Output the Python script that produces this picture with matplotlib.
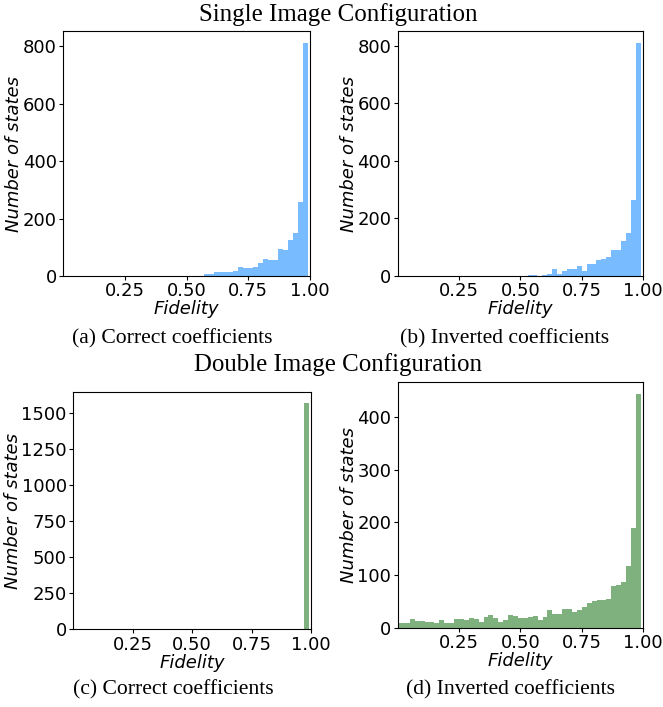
import numpy as np
import matplotlib
matplotlib.use("Agg")
import matplotlib.pyplot as plt
from matplotlib.ticker import MultipleLocator

W, H = 663, 707

# Histogram bins: width 0.02, centred on multiples of 0.02
bin_centers = [round(0.02 * k, 2) for k in range(50)]
bin_edges = [round(-0.01 + 0.02 * k, 2) for k in range(51)]

# (a) Single image, correct coefficients (counts for bins 29..49)
counts_a_tail = [6, 6, 13, 13, 15, 15, 16, 30, 27, 28, 30, 45, 58, 56, 55,
                 93, 89, 127, 148, 256, 812]
# (b) Single image, inverted coefficients (bins 27..49)
counts_b_tail = [2, 2, 1, 5, 8, 23, 6, 16, 23, 23, 34, 17, 41, 41, 55, 58,
                 65, 89, 89, 121, 148, 263, 810]
# (c) Double image, correct coefficients (bin 49)
counts_c_tail = [1564]
# (d) Double image, inverted coefficients (bins 0..49)
counts_d = [9, 9, 9, 17, 13, 13, 11, 11, 9, 15,
            9, 9, 17, 17, 15, 19, 17, 11, 20, 24,
            19, 11, 15, 24, 23, 19, 19, 20, 22, 15,
            21, 34, 26, 26, 35, 35, 30, 33, 39, 47,
            50, 52, 52, 55, 79, 81, 86, 118, 190, 444]

counts_a = [0] * (50 - len(counts_a_tail)) + counts_a_tail
counts_b = [0] * (50 - len(counts_b_tail)) + counts_b_tail
counts_c = [0] * (50 - len(counts_c_tail)) + counts_c_tail

xticks = [0.25, 0.50, 0.75, 1.00]
xticklabels = ["0.25", "0.50", "0.75", "1.00"]
ytick_steps = [200, 200, 250, 100]

captions = ["(a) Correct coefficients", "(b) Inverted coefficients",
            "(c) Correct coefficients", "(d) Inverted coefficients"]
titles = ["Single Image Configuration", "Double Image Configuration"]

blue = "dodgerblue"
green = "darkgreen"

fig = plt.figure(figsize=(W / 100, H / 100), dpi=100)

# panel boxes in pixels: left, right, top, bottom
boxes = [
    (63, 310, 31, 276),
    (397.5, 643, 31, 276),
    (73, 311, 392, 629.3),
    (397.5, 643.3, 382, 627.7),
]
all_counts = [counts_a, counts_b, counts_c, counts_d]
colors = [(blue, 0.6), (blue, 0.6), (green, 0.5), (green, 0.5)]

lab_fs = 13
for (l, r, t, b), counts, (col, al), step in zip(boxes, all_counts, colors, ytick_steps):
    ax = fig.add_axes([l / W, 1 - b / H, (r - l) / W, (b - t) / H])
    ax.hist(bin_centers, bins=bin_edges, weights=counts, color=col, alpha=al)
    ax.set_xlim(0, 1.0)
    ax.set_xticks(xticks)
    ax.set_xticklabels(xticklabels)
    ax.yaxis.set_major_locator(MultipleLocator(step))
    ax.tick_params(labelsize=lab_fs, length=3, width=0.8, pad=1.5)
    ax.set_xlabel("Fidelity", fontsize=lab_fs, style="italic", labelpad=0)
    ax.set_ylabel("Number of states", fontsize=lab_fs, style="italic", labelpad=-0.5)
    for s in ax.spines.values():
        s.set_linewidth(0.8)

serif = ["Liberation Serif", "DejaVu Serif"]
fig.text(338 / W, 1 - 15 / H, titles[0], ha="center", va="center",
         fontsize=17.9, family=serif)
fig.text(338 / W, 1 - 365 / H, titles[1], ha="center", va="center",
         fontsize=17.9, family=serif)
cap_pos = [(172, 339), (505, 339), (173, 690), (510, 690)]
for (x, y), c in zip(cap_pos, captions):
    fig.text(x / W, 1 - y / H, c, ha="center", va="center",
             fontsize=15.6, family=serif)

fig.savefig("out.png", dpi=100)
